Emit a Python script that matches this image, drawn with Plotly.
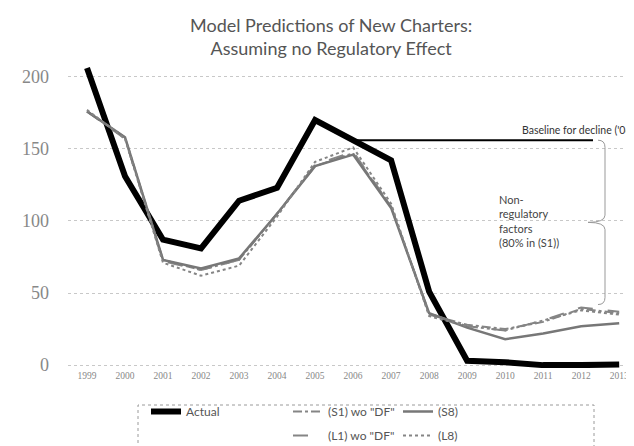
import plotly.graph_objects as go

years = list(range(1999, 2014))
actual = [206, 131, 87, 81, 114, 123, 170, 156, 142, 51, 3, 2, 0, 0, 0.5]
s1_wo_df = [176, 158, 73, 66, 73, 105, 138, 147, 110, 35, 28, 25, 30, 39, 36]
l1_wo_df = [176, 157, 72, 66, 73, 105, 139, 148, 110, 36, 27, 24, 31, 40, 37]
s8 = [176, 158, 73, 67, 74, 105, 138, 146, 109, 36, 26, 18, 22, 27, 29]
l8 = [177, 157, 71, 62, 69, 103, 141, 151, 112, 34, 27, 24, 31, 38, 35]

title_text = "Model Predictions of New Charters:<br>Assuming no Regulatory Effect"
baseline_text = "Baseline for decline ('06)"
bracket_text = "Non-<br>regulatory<br>factors<br>(80% in (S1))"
y_ticks = [0, 50, 100, 150, 200]

# plot area geometry in pixels (for paper-coordinate placement)
W, H = 634, 446
L, R, T, B = 60, 0, 50, 86
PW, PH = W - L - R, H - T - B
XR = [1998.5, 2013.6]


def px(x):
    return (x - L) / PW


def py(y):
    return (H - B - y) / PH


def xdata(p):
    return XR[0] + (p - L) / PW * (XR[1] - XR[0])


fig = go.Figure()

grey = "#858585"
font_family = "Lato, 'Open Sans', sans-serif"

fig.add_trace(go.Scatter(x=years, y=actual, name="Actual", mode="lines",
                         line=dict(color="black", width=6), legend="legend",
                         legendgroup="a"))
fig.add_trace(go.Scatter(x=years, y=s1_wo_df, name='(S1) wo "DF"', mode="lines",
                         line=dict(color=grey, width=2, dash="dashdot"), legend="legend2",
                         legendgroup="b"))
fig.add_trace(go.Scatter(x=years, y=l1_wo_df, name='(L1) wo "DF"', mode="lines",
                         line=dict(color=grey, width=2, dash="longdash"), legend="legend2",
                         legendgroup="c"))
fig.add_trace(go.Scatter(x=years, y=s8, name="(S8)", mode="lines",
                         line=dict(color="#777777", width=2.5), legend="legend3",
                         legendgroup="d"))
fig.add_trace(go.Scatter(x=years, y=l8, name="(L8)", mode="lines",
                         line=dict(color=grey, width=2, dash="dot"), legend="legend3",
                         legendgroup="e"))

# Baseline for decline: horizontal line at the 2006 actual value
base_year = 2006
base_val = actual[years.index(base_year)]
base_end = xdata(585)
fig.add_trace(go.Scatter(x=[base_year, base_end], y=[base_val, base_val], mode="lines",
                         line=dict(color="black", width=2), showlegend=False,
                         hoverinfo="skip"))

# Curly bracket from baseline down to S1 level at end
xb = xdata(597)
xl = xdata(590)
tip = xdata(580)
top = base_val
bot = 42
mid = (top + bot) / 2
path = (f"M {xl},{top} Q {xb},{top} {xb},{top-5} L {xb},{mid+5} "
        f"Q {xb},{mid} {tip},{mid} Q {xb},{mid} {xb},{mid-5} "
        f"L {xb},{bot+5} Q {xb},{bot} {xl},{bot}")
fig.add_shape(type="path", path=path, xref="x", yref="y",
              line=dict(color="#999999", width=1))

fig.add_annotation(x=px(629), y=163, xref="paper", yref="y", text=baseline_text,
                   showarrow=False, xanchor="right", yanchor="middle",
                   font=dict(family=font_family, size=10.5, color="#333333"))
fig.add_annotation(x=px(489), y=100, xref="paper", yref="y", text=bracket_text,
                   showarrow=False, xanchor="left", yanchor="middle", align="left",
                   font=dict(family=font_family, size=11, color="#444444"))

# Title
fig.add_annotation(x=px(323), y=py(4), xref="paper", yref="paper", text=title_text,
                   showarrow=False, xanchor="center", yanchor="top", align="center",
                   font=dict(family=font_family, size=18, color="#555555"))

# Legend box
fig.add_shape(type="rect", xref="paper", yref="paper",
              x0=px(130), x1=px(586), y0=py(452), y1=py(397),
              line=dict(color="#9a9a9a", width=1, dash="dot"))

leg_common = dict(orientation="v", bgcolor="rgba(0,0,0,0)", borderwidth=0,
                  font=dict(family=font_family, size=12, color="#555555"),
                  yanchor="top", xanchor="left", tracegroupgap=5,
                  itemwidth=30)

fig.update_layout(
    width=W, height=H,
    margin=dict(l=L, r=R, t=T, b=B),
    paper_bgcolor="white", plot_bgcolor="white",
    xaxis=dict(range=XR, tickmode="array", tickvals=years,
               ticktext=[str(y) for y in years], showgrid=False, zeroline=False,
               showline=False, ticks="",
               tickfont=dict(family="Liberation Serif, serif", size=9.5, color="#888888")),
    yaxis=dict(range=[-2, 213], tickmode="array", tickvals=y_ticks,
               showgrid=True, gridcolor="#c8c8c8", griddash="dot", gridwidth=1,
               zeroline=False, showline=False, ticks="", ticklabelstandoff=18,
               tickfont=dict(family="Liberation Serif, serif", size=18, color="#888888")),
    showlegend=True,
    legend=dict(x=px(138), y=py(389), **leg_common),
    legend2=dict(x=px(280), y=py(389), **leg_common),
    legend3=dict(x=px(390), y=py(389), **leg_common),
)

fig.write_html("out.html")
